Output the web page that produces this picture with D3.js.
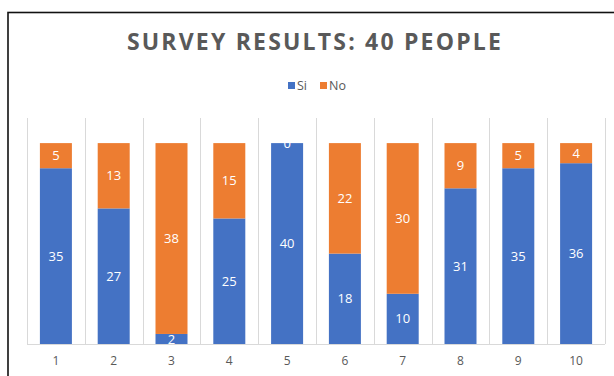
<!DOCTYPE html>
<html>
<head>
<meta charset="utf-8">
<script src="https://cdn.jsdelivr.net/npm/d3@7"></script>
<style>
  body { margin: 0; background: #fff; }
  svg { display: block; font-family: "Open Sans", "Liberation Sans", sans-serif; }
</style>
</head>
<body>
<div id="chart"></div>
<script>
// Survey results, stacked columns: Si at the bottom, No on top.
const categories = ['1', '2', '3', '4', '5', '6', '7', '8', '9', '10'];
const siValues = [35, 27, 2, 25, 40, 18, 10, 31, 35, 36];
const noValues = [5, 13, 38, 15, 0, 22, 30, 9, 5, 4];
const seriesNames = ['Si', 'No'];
const yTicks = [0, 45];

const COLORS = { Si: '#4472C4', No: '#ED7D31' };
const W = 614, H = 376;
const plot = { left: 27, right: 605, top: 118, bottom: 344 };

const svg = d3.select('#chart').append('svg')
    .attr('width', W).attr('height', H);

// Outer chart frame (right and bottom edges fall outside the crop)
svg.append('rect')
    .attr('x', 8).attr('y', 12.5)
    .attr('width', W + 10).attr('height', H)
    .attr('fill', '#fff')
    .attr('stroke', '#111').attr('stroke-width', 1.6);

svg.append('text')
    .attr('x', 315).attr('y', 49.5)
    .attr('text-anchor', 'middle')
    .attr('font-size', 23).attr('font-weight', 700)
    .attr('letter-spacing', 2.2)
    .attr('fill', '#595959')
    .text('SURVEY RESULTS: 40 PEOPLE');

// Legend
const legend = svg.append('g').attr('transform', 'translate(288,82)');
const legendX = [0, 32];
seriesNames.forEach((name, i) => {
    const g = legend.append('g').attr('transform', `translate(${legendX[i]},0)`);
    g.append('rect').attr('width', 7).attr('height', 7).attr('fill', COLORS[name]);
    g.append('text').attr('x', 9).attr('y', 7.5)
        .attr('font-size', 12.5).attr('fill', '#595959').text(name);
});

const x = d3.scaleBand().domain(categories).range([plot.left, plot.right]).paddingInner(0).paddingOuter(0);
const y = d3.scaleLinear().domain(d3.extent(yTicks)).range([plot.bottom, plot.top]);
const barW = 32;

// Vertical category gridlines
const grid = svg.append('g').attr('stroke', '#d9d9d9').attr('stroke-width', 1);
categories.concat(['end']).forEach((c, i) => {
    const gx = Math.round(plot.left + i * x.bandwidth()) + 0.5;
    grid.append('line').attr('x1', gx).attr('x2', gx)
        .attr('y1', plot.top).attr('y2', plot.bottom);
});
grid.append('line').attr('x1', plot.left).attr('x2', plot.right)
    .attr('y1', plot.bottom + 0.5).attr('y2', plot.bottom + 0.5);

const rows = categories.map((c, i) => ({ cat: c, Si: siValues[i], No: noValues[i] }));
const stacked = d3.stack().keys(seriesNames)(rows);

const layers = svg.append('g').selectAll('g')
    .data(stacked).enter().append('g')
    .attr('fill', (d) => COLORS[d.key]);

layers.selectAll('rect')
    .data((d) => d).enter().append('rect')
    .attr('x', (d) => x(d.data.cat) + (x.bandwidth() - barW) / 2)
    .attr('width', barW)
    .attr('y', (d) => y(d[1]))
    .attr('height', (d) => y(d[0]) - y(d[1]));

// Data labels, centred in each segment
const labels = svg.append('g');
stacked.forEach((layer) => {
    labels.selectAll(null)
        .data(layer).enter().append('text')
        .attr('x', (d) => x(d.data.cat) + x.bandwidth() / 2)
        .attr('y', (d) => (y(d[0]) + y(d[1])) / 2)
        .attr('dy', '0.35em')
        .attr('text-anchor', 'middle')
        .attr('font-size', 13)
        .attr('fill', '#fff')
        .text((d) => d.data[layer.key]);
});

// Category axis
const xAxis = svg.append('g')
    .attr('transform', `translate(0,${plot.bottom})`)
    .call(d3.axisBottom(x).tickSize(0).tickPadding(12));
xAxis.select('.domain').remove();
xAxis.selectAll('text')
    .attr('font-size', 12).attr('fill', '#595959')
    .attr('font-family', '"Open Sans", "Liberation Sans", sans-serif');
</script>
</body>
</html>
